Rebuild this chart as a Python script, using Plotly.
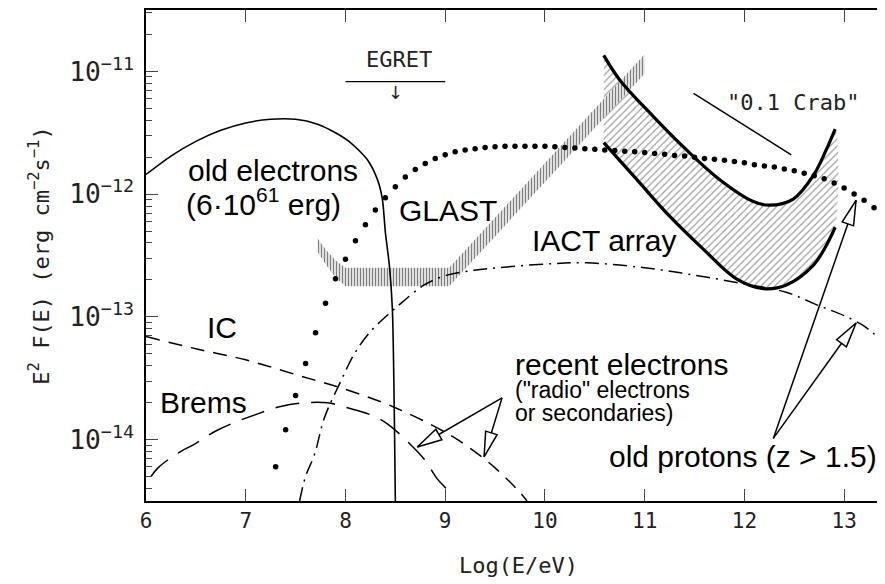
import plotly.graph_objects as go

# ---------------- data (y values are log10 of E^2 F(E) [erg cm^-2 s^-1]) ----------------
old_e_x = [6.0, 6.25, 6.5, 6.75, 7.0, 7.25, 7.5, 7.72, 7.9, 8.05, 8.22, 8.32, 8.37, 8.40, 8.44, 8.47, 8.50]
old_e_y = [-11.84, -11.69, -11.57, -11.48, -11.42, -11.39, -11.39, -11.43, -11.50, -11.58, -11.72,
           -11.88, -12.04, -12.31, -12.58, -12.93, -14.5]

ic_x = [6.0, 6.5, 7.0, 7.5, 8.0, 8.5, 9.0, 9.25, 9.5, 9.75, 9.82]
ic_y = [-13.16, -13.26, -13.35, -13.47, -13.59, -13.74, -13.94, -14.07, -14.23, -14.43, -14.5]

brems_x = [6.05, 6.12, 6.3, 6.5, 6.7, 6.92, 7.12, 7.35, 7.59, 7.82, 8.02, 8.29, 8.45, 8.64, 8.79, 8.92, 9.0, 9.08]
brems_y = [-14.3, -14.23, -14.12, -14.03, -13.93, -13.85, -13.79, -13.73, -13.70, -13.70, -13.74,
           -13.81, -13.89, -14.03, -14.16, -14.32, -14.39, -14.47]

pp_x = [7.54, 7.6, 7.69, 7.79, 7.95, 8.09, 8.25, 8.47, 8.57, 8.79, 9.02, 9.29, 9.52, 10.0, 10.42,
        11.0, 11.5, 11.99, 12.42, 12.75, 13.0, 13.19, 13.32, 13.47]
pp_y = [-14.5, -14.30, -14.12, -13.82, -13.53, -13.30, -13.12, -12.95, -12.88, -12.74, -12.66, -12.62,
        -12.60, -12.57, -12.56, -12.60, -12.66, -12.73, -12.80, -12.91, -12.99, -13.07, -13.15, -13.24]

dots_x = [7.3, 7.4, 7.5, 7.6, 7.7, 7.8, 7.9, 8.0, 8.1, 8.2, 8.3, 8.4, 8.5, 8.6, 8.7, 8.8, 8.9, 9.0,
          9.1, 9.2, 9.3, 9.4, 9.5, 9.6, 9.7, 9.8, 9.9, 10.0, 10.1, 10.2, 10.3, 10.4, 10.5, 10.6, 10.7,
          10.8, 10.9, 11.0, 11.1, 11.2, 11.3, 11.4, 11.5, 11.6, 11.7, 11.8, 11.9, 12.0, 12.1, 12.2,
          12.3, 12.4, 12.5, 12.6, 12.7, 12.8, 12.9, 13.0, 13.1, 13.2, 13.3, 13.4]
dots_y = [-14.22, -13.92, -13.64, -13.38, -13.13, -12.89, -12.69, -12.53, -12.38, -12.25, -12.13,
          -12.03, -11.94, -11.86, -11.80, -11.75, -11.71, -11.68, -11.655, -11.64, -11.63, -11.62,
          -11.615, -11.61, -11.61, -11.61, -11.61, -11.61, -11.615, -11.62, -11.625, -11.63, -11.635,
          -11.64, -11.645, -11.65, -11.655, -11.66, -11.67, -11.675, -11.685, -11.69, -11.70, -11.71,
          -11.715, -11.725, -11.735, -11.745, -11.76, -11.77, -11.78, -11.795, -11.81, -11.83, -11.85,
          -11.875, -11.91, -11.95, -12.0, -12.05, -12.11, -12.19]

glast_x = [7.72, 7.8, 7.9, 8.0, 9.04, 11.0]
glast_hi = [-12.36, -12.45, -12.54, -12.60, -12.60, -10.86]
glast_lo = [-12.47, -12.57, -12.68, -12.75, -12.75, -11.02]

iact_up_x = [10.59, 10.75, 11.09, 11.42, 11.75, 12.09, 12.25, 12.49, 12.69, 12.82, 12.91]
iact_up_y = [-10.87, -11.07, -11.37, -11.64, -11.88, -12.06, -12.09, -12.04, -11.85, -11.64, -11.47]
iact_lo_x = [10.59, 10.92, 11.25, 11.59, 11.92, 12.19, 12.42, 12.69, 12.82, 12.91]
iact_lo_y = [-11.58, -11.88, -12.18, -12.45, -12.69, -12.77, -12.74, -12.58, -12.42, -12.27]

crab_x = [11.49, 12.47]
crab_y = [-11.18, -11.68]

egret_x = [8.0, 9.0]
egret_y = [-11.083, -11.083]

# arrows: (origin x, origin y, tip x, tip y)
arrows = [(9.57, -13.66, 8.72, -14.06), (9.57, -13.66, 9.39, -14.14),
          (12.29, -13.99, 13.12, -12.05), (12.29, -13.99, 13.12, -13.05)]

x_range = [6.0, 13.47]
y_range = [-14.5, -10.5]

W, H = 885, 584
ML, MR, MT, MB = 138, 0, 2, 91
PXX = (W - ML - MR) / (x_range[1] - x_range[0])
PXY = (H - MT - MB) / (y_range[1] - y_range[0])


def lin(v):
    return [10 ** a for a in v]


fig = go.Figure()

# IACT hatched region
fig.add_trace(go.Scatter(
    x=iact_up_x + iact_lo_x[::-1], y=lin(iact_up_y + iact_lo_y[::-1]),
    mode="lines", fill="toself", line=dict(width=0, shape="spline"),
    fillcolor="white",
    fillpattern=dict(shape="/", size=5, solidity=0.22, fgcolor="#333", bgcolor="white"),
    hoverinfo="skip", showlegend=False))

# GLAST hatched band
fig.add_trace(go.Scatter(
    x=glast_x + glast_x[::-1], y=lin(glast_hi + glast_lo[::-1]),
    mode="lines", fill="toself", line=dict(width=0),
    fillcolor="white",
    fillpattern=dict(shape="|", size=3, solidity=0.5, fgcolor="black", bgcolor="white"),
    hoverinfo="skip", showlegend=False))

# IACT boundary curves
fig.add_trace(go.Scatter(x=iact_up_x, y=lin(iact_up_y), mode="lines",
                         line=dict(color="black", width=3.2, shape="spline"), showlegend=False))
fig.add_trace(go.Scatter(x=iact_lo_x, y=lin(iact_lo_y), mode="lines",
                         line=dict(color="black", width=3.2, shape="spline"), showlegend=False))

# old electrons
fig.add_trace(go.Scatter(x=old_e_x, y=lin(old_e_y), mode="lines",
                         line=dict(color="black", width=1.6, shape="spline", smoothing=0.7),
                         showlegend=False))
# IC
fig.add_trace(go.Scatter(x=ic_x, y=lin(ic_y), mode="lines",
                         line=dict(color="black", width=1.5, dash="14px,9px", shape="spline"),
                         showlegend=False))
# Brems
fig.add_trace(go.Scatter(x=brems_x, y=lin(brems_y), mode="lines",
                         line=dict(color="black", width=1.5, dash="24px,12px", shape="spline"),
                         showlegend=False))
# protons (dash-dot)
fig.add_trace(go.Scatter(x=pp_x, y=lin(pp_y), mode="lines",
                         line=dict(color="black", width=1.5, dash="14px,6px,2px,6px", shape="spline"),
                         showlegend=False))
# protons dotted
fig.add_trace(go.Scatter(x=dots_x, y=lin(dots_y), mode="markers",
                         marker=dict(color="black", size=5.5), showlegend=False))

# 0.1 Crab line and EGRET limit
fig.add_trace(go.Scatter(x=crab_x, y=lin(crab_y), mode="lines",
                         line=dict(color="black", width=1.5), showlegend=False))
fig.add_trace(go.Scatter(x=egret_x, y=lin(egret_y), mode="lines",
                         line=dict(color="black", width=1.2), showlegend=False))

# arrows with hollow heads
for ox, oy, tx, ty in arrows:
    fig.add_trace(go.Scatter(x=[ox, tx], y=lin([oy, ty]), mode="lines",
                             line=dict(color="black", width=1.5), showlegend=False))
    dxp = (ox - tx) * PXX
    dyp = (oy - ty) * PXY
    n = (dxp ** 2 + dyp ** 2) ** 0.5
    ux, uy = dxp / n, dyp / n
    L, Wd = 25, 12
    bx, by = L * ux, L * uy
    qx, qy = -uy * Wd / 2, ux * Wd / 2
    pts = [(0, 0), (bx + qx, by + qy), (bx - qx, by - qy), (0, 0)]
    fig.add_trace(go.Scatter(x=[tx + a / PXX for a, b in pts],
                             y=[10 ** (ty + b / PXY) for a, b in pts],
                             mode="lines", fill="toself", fillcolor="white",
                             line=dict(color="black", width=1.5), showlegend=False))

BIG = dict(family="Liberation Sans, Arial, sans-serif", size=30, color="black")
SMALL = dict(family="Liberation Sans, Arial, sans-serif", size=23, color="black")
MONO = "DejaVu Sans Mono, monospace"
THIN = dict(family=MONO, size=22, color="#222")

labels = [
    (6.40, -11.806, "old electrons", BIG, "left"),
    (6.38, -12.066, "(6·10<sup>61</sup> erg)", BIG, "left"),
    (8.52, -12.13, "GLAST", BIG, "left"),
    (9.85, -12.38, "IACT array", BIG, "left"),
    (6.59, -13.09, "IC", BIG, "left"),
    (6.12, -13.70, "Brems", BIG, "left"),
    (9.68, -13.39, "recent electrons", BIG, "left"),
    (9.68, -13.595, "(\"radio\" electrons", SMALL, "left"),
    (9.68, -13.78, "or secondaries)", SMALL, "left"),
    (10.62, -14.14, "old protons (z > 1.5)", BIG, "left"),
    (8.54, -10.90, "EGRET", THIN, "center"),
    (12.485, -11.25, "\"0.1 Crab\"", THIN, "center"),
    (8.5, -11.17, "↓", dict(family="DejaVu Sans", size=18, color="#222"), "center"),
]
for x, y, t, f, xa in labels:
    fig.add_annotation(x=x, y=y, xref="x", yref="y", text=t, showarrow=False,
                       font=f, xanchor=xa, yanchor="middle")

tickfont = dict(family=MONO, size=21, color="#222")
fig.update_xaxes(range=x_range, dtick=1, tick0=0, ticks="inside", ticklen=12, tickwidth=1.2,
                 showline=True, linewidth=1.6, linecolor="black", mirror="ticks",
                 showgrid=False, zeroline=False, tickfont=tickfont,
                 title=dict(text="Log(E/eV)", font=dict(family=MONO, size=22, color="#222"),
                            standoff=26))
fig.update_yaxes(type="log", range=y_range, dtick=1, ticks="inside", ticklen=12, tickwidth=1.2,
                 exponentformat="power", showexponent="all", ticklabelstandoff=6,
                 minor=dict(ticks="inside", ticklen=6, dtick="D1", showgrid=False),
                 showline=True, linewidth=1.6, linecolor="black", mirror="ticks",
                 showgrid=False, zeroline=False, tickfont=tickfont,
                 title=dict(text="E<sup>2</sup> F(E) (erg cm<sup>−2</sup>s<sup>−1</sup>)",
                            font=dict(family=MONO, size=22, color="#222"),
                            standoff=14))
fig.update_layout(width=W, height=H, margin=dict(l=ML, r=MR, t=MT, b=MB),
                  paper_bgcolor="white", plot_bgcolor="white", showlegend=False)
fig.write_html("out.html")
